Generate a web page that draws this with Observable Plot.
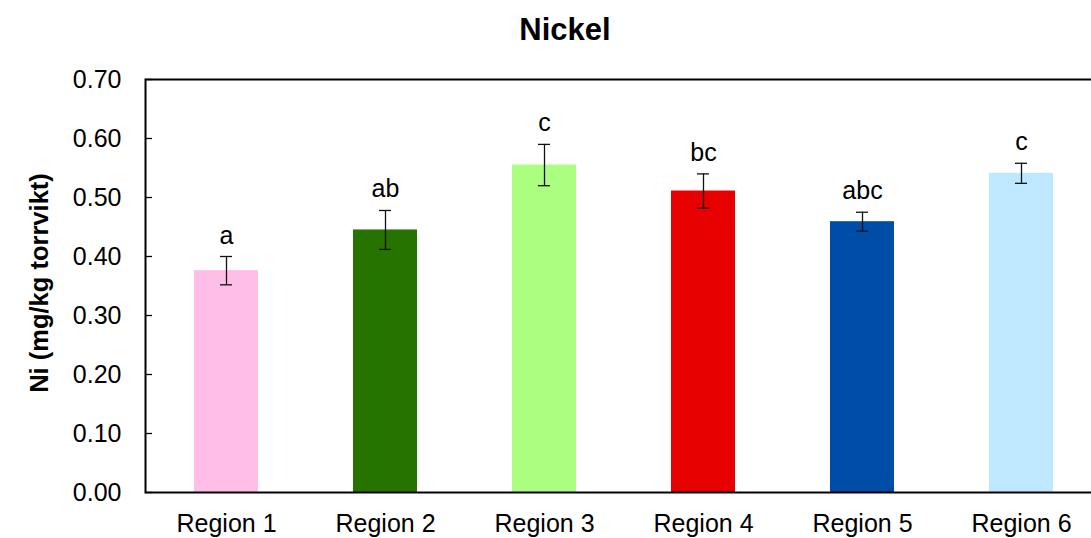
<!DOCTYPE html>
<html>
<head>
<meta charset="utf-8">
<script src="https://cdn.jsdelivr.net/npm/d3@7"></script>
<script src="https://cdn.jsdelivr.net/npm/@observablehq/plot@0.6"></script>
<style>
  html, body { margin: 0; padding: 0; background: #fff; overflow: hidden; }
  #wrap { position: relative; width: 1091px; height: 538px; overflow: hidden; font-family: "Liberation Sans", Arial, sans-serif; }
  #title { position: absolute; left: 565px; top: 14px; transform: translateX(-50%); font-size: 31px; line-height: 31px; font-weight: bold; color: #000; white-space: nowrap; }
  #ylabel { position: absolute; left: 40px; top: 283px; transform: translate(-50%, -50%) rotate(-90deg); font-size: 25.5px; line-height: 25.5px; font-weight: bold; color: #000; white-space: nowrap; }
  #chart { position: absolute; left: 0; top: 60px; width: 1102px; }
  #chart svg { max-width: none !important; }
</style>
</head>
<body>
<div id="wrap">
  <div id="title"></div>
  <div id="chart"></div>
  <div id="ylabel"></div>
</div>
<script>
const chartTitle = "Nickel";
const yLabel  = "Ni (mg/kg torrvikt)";
const regions = ["Region 1", "Region 2", "Region 3", "Region 4", "Region 5", "Region 6"];
const means   = [0.376, 0.445, 0.555, 0.511, 0.459, 0.541];
const errors  = [0.024, 0.033, 0.035, 0.029, 0.016, 0.017];
const letters = ["a", "ab", "c", "bc", "abc", "c"];
const colors  = ["#FFBEE8", "#267300", "#AAFF80", "#E60000", "#004DA8", "#BEE8FF"];
const yTicks  = [0, 0.1, 0.2, 0.3, 0.4, 0.5, 0.6, 0.7];

document.getElementById("title").textContent = chartTitle;
document.getElementById("ylabel").textContent = yLabel;

const data = regions.map((r, i) => ({region: r, value: means[i], err: errors[i], letter: letters[i]}));
const font = "Liberation Sans, Arial, sans-serif";

const chart = Plot.plot({
  width: 1102,
  height: 478,
  marginLeft: 145,
  marginRight: 0,
  marginTop: 19,
  marginBottom: 46,
  style: {fontFamily: font, background: "white", color: "black", maxWidth: "none"},
  x: {domain: regions, paddingInner: 0.6, paddingOuter: 0.3},
  y: {domain: [0, 0.7]},
  color: {domain: regions, range: colors},
  marks: [
    Plot.barY(data, {x: "region", y: "value", fill: "region"}),
    Plot.ruleX(data, {x: "region", y1: d => d.value - d.err, y2: d => d.value + d.err, stroke: "#111", strokeWidth: 1.3}),
    Plot.tickY(data, {x: "region", y: d => d.value + d.err, stroke: "#111", strokeWidth: 1.3, inset: 26}),
    Plot.tickY(data, {x: "region", y: d => d.value - d.err, stroke: "#111", strokeWidth: 1.3, inset: 26}),
    Plot.text(data, {x: "region", y: d => d.value + d.err, text: "letter", dy: -13, lineAnchor: "bottom", fontSize: 25, fill: "black"}),
    Plot.axisY({ticks: yTicks, tickSize: -7, text: null, label: null, strokeWidth: 1.3}),
    Plot.axisY({ticks: yTicks, tickSize: 0, tickPadding: 24, tickFormat: d3.format(".2f"), fontSize: 25, label: null}),
    Plot.axisX({tickSize: 0, tickPadding: 22, fontSize: 25, label: null}),
    Plot.frame({stroke: "black", strokeWidth: 2})
  ]
});
document.getElementById("chart").appendChild(chart);
</script>
</body>
</html>
